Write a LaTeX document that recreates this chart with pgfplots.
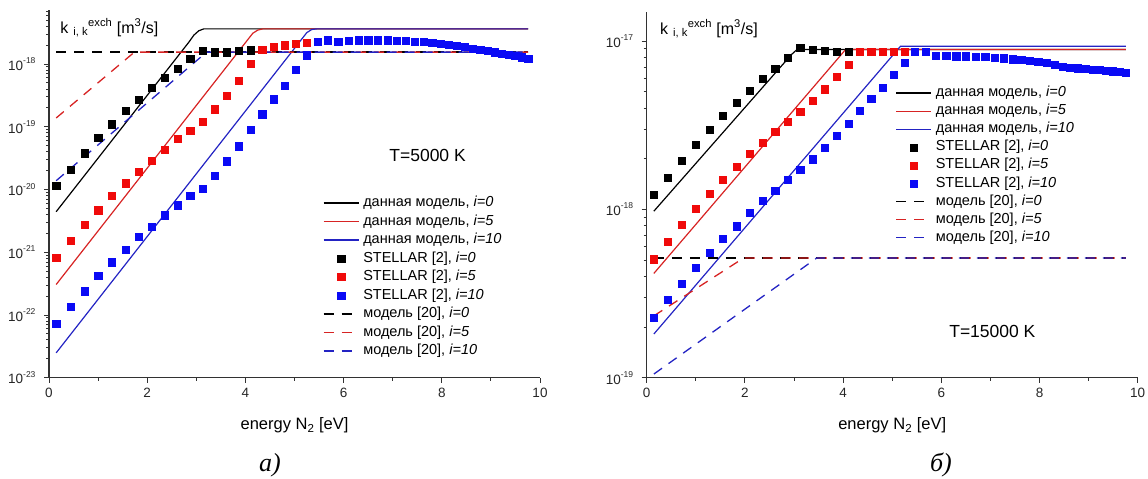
\documentclass[border=0pt]{standalone}
\usepackage{fontspec}
\setmainfont{Liberation Sans}
\newfontfamily\capfont{Liberation Serif}
\usepackage{pgfplots}
\usepackage{pgfplotstable}
\pgfplotsset{compat=1.18}

\definecolor{sqred}{RGB}{240,10,10}
\definecolor{sqblue}{RGB}{10,10,245}
\definecolor{lnred}{RGB}{215,35,35}
\definecolor{lnblue}{RGB}{35,35,195}
\definecolor{axcol}{RGB}{50,50,50}

% STELLAR data, T=5000 K (E, i=0, i=5, i=10)
\pgfplotstableread{
E k0 k5 k10
0.146 1.148e-20 8.128e-22 7.244e-23
0.435 2.089e-20 1.514e-21 1.349e-22
0.720 3.802e-20 2.754e-21 2.399e-22
1.002 6.607e-20 4.677e-21 4.169e-22
1.280 1.096e-19 7.943e-21 6.918e-22
1.555 1.778e-19 1.259e-20 1.096e-21
1.826 2.692e-19 1.950e-20 1.778e-21
2.093 4.169e-19 2.884e-20 2.570e-21
2.357 6.026e-19 4.365e-20 3.890e-21
2.618 8.511e-19 6.457e-20 5.623e-21
2.875 1.202e-18 8.710e-20 7.943e-21
3.128 1.622e-18 1.202e-19 1.023e-20
3.378 1.549e-18 1.905e-19 1.660e-20
3.624 1.549e-18 3.162e-19 2.818e-20
3.867 1.622e-18 5.495e-19 4.898e-20
4.106 1.660e-18 1.000e-18 8.913e-20
4.342 nan 1.698e-18 1.585e-19
4.574 nan 1.905e-18 2.754e-19
4.802 nan 1.995e-18 4.571e-19
5.027 nan 2.138e-18 8.128e-19
5.249 nan 2.188e-18 1.380e-18
5.466 nan nan 2.291e-18
5.681 nan nan 2.399e-18
5.891 nan nan 2.239e-18
6.099 nan nan 2.344e-18
6.302 nan nan 2.399e-18
6.502 nan nan 2.399e-18
6.699 nan nan 2.399e-18
6.892 nan nan 2.399e-18
7.081 nan nan 2.344e-18
7.267 nan nan 2.344e-18
7.449 nan nan 2.291e-18
7.628 nan nan 2.239e-18
7.803 nan nan 2.188e-18
7.975 nan nan 2.138e-18
8.143 nan nan 2.042e-18
8.308 nan nan 1.950e-18
8.469 nan nan 1.862e-18
8.626 nan nan 1.778e-18
8.780 nan nan 1.698e-18
8.930 nan nan 1.622e-18
9.077 nan nan 1.549e-18
9.220 nan nan 1.479e-18
9.360 nan nan 1.413e-18
9.496 nan nan 1.349e-18
9.629 nan nan 1.288e-18
9.758 nan nan 1.230e-18
}\stellarA

% STELLAR data, T=15000 K
\pgfplotstableread{
E k0 k5 k10
0.146 1.222e-18 5.070e-19 2.265e-19
0.435 1.549e-18 6.457e-19 2.897e-19
0.720 1.945e-18 8.110e-19 3.631e-19
1.002 2.421e-18 1.005e-18 4.519e-19
1.280 2.979e-18 1.245e-18 5.508e-19
1.555 3.606e-18 1.500e-18 6.730e-19
1.826 4.305e-18 1.799e-18 7.962e-19
2.093 5.070e-18 2.133e-18 9.528e-19
2.357 5.957e-18 2.500e-18 1.127e-18
2.618 6.887e-18 2.897e-18 1.291e-18
2.875 7.943e-18 3.334e-18 1.500e-18
3.128 9.099e-18 3.811e-18 1.714e-18
3.378 8.851e-18 4.426e-18 1.991e-18
3.624 8.730e-18 5.188e-18 2.333e-18
3.867 8.650e-18 6.138e-18 2.742e-18
4.106 8.650e-18 7.244e-18 3.243e-18
4.342 nan 8.670e-18 3.855e-18
4.574 nan 8.670e-18 4.529e-18
4.802 nan 8.670e-18 5.309e-18
5.027 nan 8.670e-18 6.310e-18
5.249 nan 8.670e-18 7.447e-18
5.466 nan nan 8.690e-18
5.681 nan nan 8.690e-18
5.891 nan nan 8.185e-18
6.099 nan nan 8.185e-18
6.302 nan nan 8.147e-18
6.502 nan nan 8.147e-18
6.699 nan nan 8.110e-18
6.892 nan nan 8.072e-18
7.081 nan nan 7.998e-18
7.267 nan nan 7.925e-18
7.449 nan nan 7.816e-18
7.628 nan nan 7.727e-18
7.803 nan nan 7.656e-18
7.975 nan nan 7.551e-18
8.143 nan nan 7.413e-18
8.308 nan nan 7.244e-18
8.469 nan nan 7.079e-18
8.626 nan nan 6.982e-18
8.780 nan nan 6.918e-18
8.930 nan nan 6.855e-18
9.077 nan nan 6.792e-18
9.220 nan nan 6.745e-18
9.360 nan nan 6.683e-18
9.496 nan nan 6.637e-18
9.629 nan nan 6.577e-18
9.758 nan nan 6.516e-18
}\stellarB

\pgfplotsset{
  chartaxis/.style={
    scale only axis, width=491pt,
    xmin=0, xmax=10,
    axis x line=bottom, axis y line=left,
    axis line style={-, line width=1.1pt, axcol},
    tick style={line width=0.9pt, axcol},
    tick align=outside,
    major tick length=5pt, minor tick length=3pt,
    xtick={0,2,4,6,8,10}, minor xtick={1,3,5,7,9},
    tick label style={font=\fontsize{13.5}{13.5}\selectfont, text=black!85},
    xticklabel style={yshift=-2pt},
    yticklabel style={xshift=-5pt},
    yticklabel={\pgfmathparse{int(round(\tick))}10\raisebox{0.5em}{\fontsize{8.5}{8.5}\selectfont\pgfmathresult}},
    /pgf/number format/assume math mode=true,
    xlabel={energy N\textsubscript{2} [eV]},
    xlabel style={at={(axis description cs:0.5,0)}, anchor=base, yshift=-52pt, font=\fontsize{16.5}{16.5}\selectfont},
    clip=false,
    legend cell align=left,
    legend image code/.code={\draw[mark repeat=2,mark phase=2,##1] plot coordinates {(0pt,0pt) (17.5pt,0pt) (35pt,0pt)};},
    legend style={draw=none, fill=none, anchor=north west, inner sep=0pt, outer sep=0pt,
      font=\fontsize{14.5}{14.5}\selectfont,
      nodes={inner sep=0pt, text height=10.5pt, text depth=3.5pt},
      /tikz/every odd column/.append style={column sep=4pt}},
  },
  lnstyle/.style={line width=1.2pt},
  dshstyle/.style={line width=1.3pt, dash pattern=on 10pt off 8pt},
  sqstyle/.style={only marks, mark=square*, mark size=3.6pt},
}

\begin{document}
\begin{tikzpicture}
\path[use as bounding box] (0,0) rectangle (1148pt,479pt);

% ---------------- left: T=5000 K
\begin{axis}[ymode=log, log basis y=10, chartaxis, at={(49pt,101.3pt)}, anchor=south west, height=367.7pt,
  ymin=1e-23, ymax=7.26e-18,
  legend style={at={(0.558,0.494)}, row sep=4.5pt}]
\addplot[lnstyle, black] coordinates {(0.146,4.43e-21) (2.85,2.239e-18) (2.95,2.884e-18) (3.05,3.388e-18) (3.15,3.631e-18) (9.76,3.631e-18)};
\addlegendentry{данная модель, \textit{i=0}}
\addplot[lnstyle, lnred] coordinates {(0.146,3.06e-22) (4.05,2.455e-18) (4.15,3.090e-18) (4.25,3.467e-18) (4.35,3.631e-18) (9.76,3.631e-18)};
\addlegendentry{данная модель, \textit{i=5}}
\addplot[lnstyle, lnblue] coordinates {(0.146,2.49e-23) (5.15,2.512e-18) (5.25,3.162e-18) (5.35,3.548e-18) (5.45,3.631e-18) (9.76,3.631e-18)};
\addlegendentry{данная модель, \textit{i=10}}
\addplot[sqstyle, black] table[x=E, y=k0] {\stellarA};
\addlegendentry{STELLAR [2], \textit{i=0}}
\addplot[sqstyle, sqred] table[x=E, y=k5] {\stellarA};
\addlegendentry{STELLAR [2], \textit{i=5}}
\addplot[sqstyle, sqblue] table[x=E, y=k10] {\stellarA};
\addlegendentry{STELLAR [2], \textit{i=10}}
\addplot[dshstyle, black] coordinates {(0.146,1.549e-18) (9.76,1.549e-18)};
\addlegendentry{модель [20], \textit{i=0}}
\addplot[dshstyle, lnred] coordinates {(0.146,1.380e-19) (1.74,1.549e-18) (9.76,1.549e-18)};
\addlegendentry{модель [20], \textit{i=5}}
\addplot[dshstyle, lnblue] coordinates {(0.146,1.380e-20) (3.21,1.549e-18) (9.76,1.549e-18)};
\addlegendentry{модель [20], \textit{i=10}}
\node[anchor=base west, font=\fontsize{16}{16}\selectfont] at (axis cs:0.16,3.12e-18) {k\hspace{5pt}\textsubscript{i, k}\textsuperscript{exch} [m\textsuperscript{3}/s]};
\node[font=\fontsize{17.5}{17.5}\selectfont] at (axis cs:7.71,3.54e-20) {T=5000 K};
\end{axis}

% ---------------- right: T=15000 K
\begin{axis}[ymode=log, log basis y=10, chartaxis, at={(646.7pt,101.3pt)}, anchor=south west, height=366pt,
  ymin=1e-19, ymax=1.496e-17,
  legend style={at={(0.5067,0.797)}, row sep=4.1pt}]
\addplot[lnstyle, black] coordinates {(0.146,9.77e-19) (2.95,8.337e-18) (3.06,8.913e-18) (9.76,8.913e-18)};
\addlegendentry{данная модель, \textit{i=0}}
\addplot[lnstyle, lnred] coordinates {(0.146,4.169e-19) (4.05,8.913e-18) (9.76,8.913e-18)};
\addlegendentry{данная модель, \textit{i=5}}
\addplot[lnstyle, lnblue] coordinates {(0.146,1.820e-19) (5.17,9.333e-18) (9.76,9.333e-18)};
\addlegendentry{данная модель, \textit{i=10}}
\addplot[sqstyle, black] table[x=E, y=k0] {\stellarB};
\addlegendentry{STELLAR [2], \textit{i=0}}
\addplot[sqstyle, sqred] table[x=E, y=k5] {\stellarB};
\addlegendentry{STELLAR [2], \textit{i=5}}
\addplot[sqstyle, sqblue] table[x=E, y=k10] {\stellarB};
\addlegendentry{STELLAR [2], \textit{i=10}}
\addplot[dshstyle, black] coordinates {(0.146,5.14e-19) (9.76,5.14e-19)};
\addlegendentry{модель [20], \textit{i=0}}
\addplot[dshstyle, lnred] coordinates {(0.146,2.333e-19) (1.97,5.14e-19) (9.76,5.14e-19)};
\addlegendentry{модель [20], \textit{i=5}}
\addplot[dshstyle, lnblue] coordinates {(0.146,1.052e-19) (3.46,5.14e-19) (9.76,5.14e-19)};
\addlegendentry{модель [20], \textit{i=10}}
\node[anchor=base west, font=\fontsize{16}{16}\selectfont] at (axis cs:0.20,1.10e-17) {k\hspace{5pt}\textsubscript{i, k}\textsuperscript{exch} [m\textsuperscript{3}/s]};
\node[font=\fontsize{17.5}{17.5}\selectfont] at (axis cs:7.04,1.875e-19) {T=15000 K};
\end{axis}

\node[anchor=base, font=\capfont\fontsize{26}{26}\selectfont\itshape] at (270pt,7pt) {а)};
\node[anchor=base, font=\capfont\fontsize{26}{26}\selectfont\itshape] at (941pt,7pt) {б)};
\end{tikzpicture}
\end{document}
